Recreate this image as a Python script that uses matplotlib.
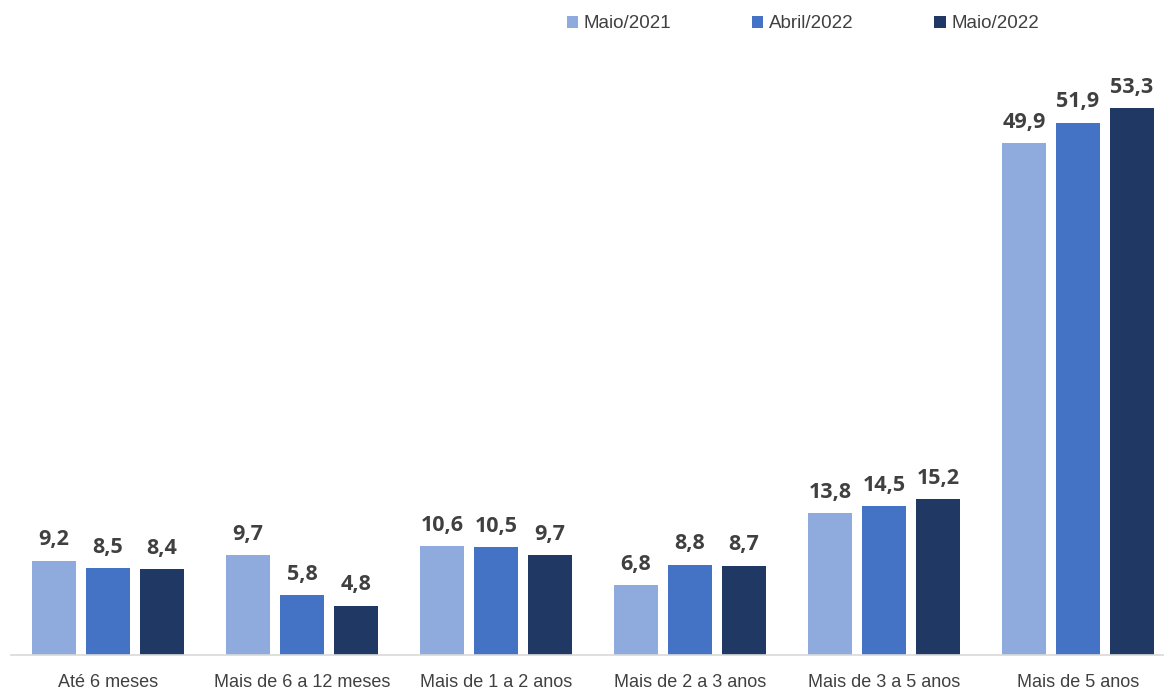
import matplotlib
matplotlib.use("Agg")
import matplotlib.pyplot as plt
import numpy as np
from matplotlib import font_manager

categories = ["Até 6 meses", "Mais de 6 a 12 meses", "Mais de 1 a 2 anos",
              "Mais de 2 a 3 anos", "Mais de 3 a 5 anos", "Mais de 5 anos"]
series_names = ["Maio/2021", "Abril/2022", "Maio/2022"]
maio2021 = [9.2, 9.7, 10.6, 6.8, 13.8, 49.9]
abril2022 = [8.5, 5.8, 10.5, 8.8, 14.5, 51.9]
maio2022 = [8.4, 4.8, 9.7, 8.7, 15.2, 53.3]
colors = ["#8FAADC", "#4472C4", "#203864"]

names = {f.name for f in font_manager.fontManager.ttflist}
tick_font = "Liberation Sans Narrow" if "Liberation Sans Narrow" in names else "Liberation Sans"

W, H = 1164, 692
fig = plt.figure(figsize=(W/100, H/100), dpi=100)
ax = fig.add_axes([11/W, (H-655)/H, (W-11)/W, (655-60)/H])

x = np.arange(len(categories))
width = 0.227
offset = 0.278
for i, (vals, name) in enumerate(zip([maio2021, abril2022, maio2022], series_names)):
    bars = ax.bar(x + (i-1)*offset, vals, width, color=colors[i], label=name, zorder=2)
    for b, v in zip(bars, vals):
        ax.text(b.get_x()+b.get_width()/2, v + 1.0, f"{v:.1f}".replace(".", ","),
                ha="center", va="bottom", fontsize=15.5, fontweight="bold",
                color="#404040", family="Open Sans")

ax.set_xlim(-0.5, -0.5 + (W-11)/194)
ax.set_ylim(0, 595/10.26)
for s in ["top", "right", "left"]:
    ax.spines[s].set_visible(False)
ax.spines["bottom"].set_color("#D9D9D9")
ax.spines["bottom"].set_linewidth(1.2)
ax.set_yticks([])
ax.set_xticks(x)
ax.set_xticklabels(categories, fontsize=13, color="#404040", family=tick_font)
ax.tick_params(axis="x", length=0, pad=14)

leg = fig.legend(loc="center", bbox_to_anchor=(803/W, 1-24/H), ncol=3, frameon=False,
                 prop={"family": tick_font, "size": 13.5}, handlelength=0.6, handleheight=0.6,
                 handletextpad=0.3, columnspacing=4.3)
for t in leg.get_texts():
    t.set_color("#404040")

fig.savefig("out.png", dpi=100)
